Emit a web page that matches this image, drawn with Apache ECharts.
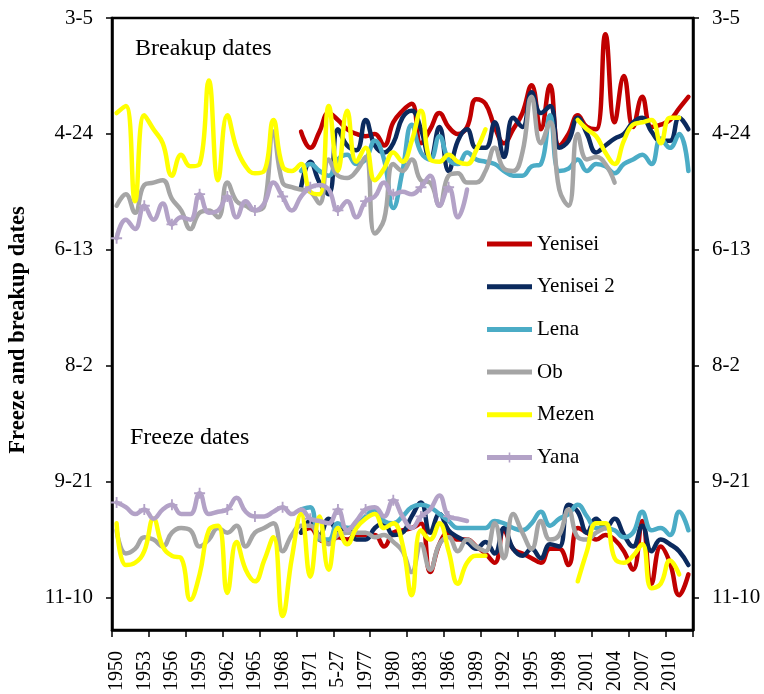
<!DOCTYPE html>
<html>
<head>
<meta charset="utf-8">
<script src="https://cdn.jsdelivr.net/npm/echarts@6/dist/echarts.min.js"></script>
<style>
  html, body { margin: 0; padding: 0; background: #fff; }
  #chart { width: 764px; height: 694px; }
</style>
</head>
<body>
<div id="chart"></div>
<script>
// Category labels (one per year, 1950-2012); the 1974 cell carries a date-formatted text.
const years = ['1950','1951','1952','1953','1954','1955','1956','1957','1958','1959',
  '1960','1961','1962','1963','1964','1965','1966','1967','1968','1969',
  '1970','1971','1972','1973','5-27','1975','1976','1977','1978','1979',
  '1980','1981','1982','1983','1984','1985','1986','1987','1988','1989',
  '1990','1991','1992','1993','1994','1995','1996','1997','1998','1999',
  '2000','2001','2002','2003','2004','2005','2006','2007','2008','2009',
  '2010','2011','2012'];

// Date axis: day of year (non-leap) and its printed label.
const dayTicks = [64, 114, 164, 214, 264, 314];
const dayTickLabels = ['3-5', '4-24', '6-13', '8-2', '9-21', '11-10'];

const _ = null;
// Breakup dates (day of year)
const yeniseiBreakup = [_,_,_,_,_,_,_,_,_,_,_,_,_,_,_,_,_,_,_,_,
  113,120,113,105,108,112,114,115,114,119,109,104,101,118,112,105,111,114,111,99,
  101,111,118,112,105,93,112,93,119,114,106,111,112,71,109,89,111,98,111,110,108,103,98];
const yenisei2Breakup = [_,_,_,_,_,_,_,_,_,_,_,_,_,_,_,_,_,_,_,_,
  137,126,135,140,112,119,121,108,119,122,118,107,104,112,125,111,130,117,112,120,
  120,109,124,107,111,96,105,102,120,117,107,114,122,119,116,114,109,107,113,117,117,107,112];
const lenaBreakup = [_,_,_,_,_,_,_,_,_,_,_,_,_,_,_,_,_,_,_,_,
  130,127,130,132,125,123,127,125,117,125,146,130,110,122,125,115,125,127,122,125,
  126,127,130,132,132,128,127,106,130,129,125,130,127,128,131,127,125,123,127,116,120,114,130];
const obBreakup = [145,140,148,136,135,134,142,147,155,148,147,150,135,143,145,147,145,113,135,137,
  138,139,144,125,132,133,130,124,157,151,127,130,125,134,135,145,132,131,135,135,
  130,120,129,130,122,98,118,109,138,145,114,125,124,127,135,_,_,_,_,_,_,_,_];
const mezenBreakup = [105,102,143,106,112,118,132,123,128,127,91,134,106,120,128,131,130,108,128,130,
  127,139,140,102,130,104,126,120,134,129,122,126,117,104,125,126,123,126,127,121,
  112,_,_,_,_,_,_,_,_,_,108,112,115,122,127,117,110,109,108,118,107,107,_];
const yanaBreakup = [159,151,155,145,151,144,153,150,151,140,148,147,141,150,143,147,144,135,141,147,
  141,137,136,138,147,143,150,143,141,135,140,139,140,137,132,145,137,150,138,_,
  _,_,_,_,_,_,_,_,_,_,_,_,_,_,_,_,_,_,_,_,_,_,_];

// Freeze dates (day of year)
const yeniseiFreeze = [_,_,_,_,_,_,_,_,_,_,_,_,_,_,_,_,_,_,_,_,
  286,284,289,290,288,289,287,287,287,292,286,285,284,282,303,291,286,289,289,292,
  295,299,285,293,295,297,299,293,293,300,284,286,289,287,289,294,302,281,308,292,299,313,304];
const yenisei2Freeze = [_,_,_,_,_,_,_,_,_,_,_,_,_,_,_,_,_,_,_,_,
  286,281,287,280,285,284,289,289,284,282,287,286,279,273,286,278,285,288,290,293,
  290,295,284,293,296,293,297,291,292,274,277,286,280,284,280,287,292,283,294,289,291,294,300];
const lenaFreeze = [_,_,_,_,_,_,_,_,_,_,_,_,_,_,_,_,_,_,_,_,
  276,275,289,289,282,284,283,279,276,281,282,279,275,274,275,278,281,284,284,284,
  284,281,282,284,285,282,277,283,280,278,274,279,284,284,285,288,286,277,285,284,287,277,285];
const obFreeze = [285,295,293,288,289,292,286,284,285,292,289,284,286,283,292,286,284,282,294,287,
  283,283,288,291,287,286,286,286,288,287,290,294,303,291,302,291,288,294,289,292,
  294,282,297,278,286,293,281,289,287,276,288,289,286,284,_,_,_,_,_,_,_,_,_];
const mezenFreeze = [282,300,299,294,280,292,296,297,315,304,285,283,312,290,302,307,298,288,322,297,
  278,305,279,302,284,291,284,280,278,284,282,291,313,285,289,282,294,308,299,296,
  296,_,_,_,_,_,_,_,_,_,307,294,282,282,297,299,296,291,310,308,298,304,_];
const yanaFreeze = [273,275,278,276,280,276,274,278,278,269,278,277,276,271,277,279,279,277,275,278,
  276,280,281,282,276,285,281,276,275,279,272,279,284,279,276,270,279,280,281,_,
  _,_,_,_,_,_,_,_,_,_,_,_,_,_,_,_,_,_,_,_,_,_,_];

const rivers = [
  { name: 'Yenisei',   color: '#C00000', breakup: yeniseiBreakup,  freeze: yeniseiFreeze },
  { name: 'Yenisei 2', color: '#0B2A5E', breakup: yenisei2Breakup, freeze: yenisei2Freeze },
  { name: 'Lena',      color: '#4BACC6', breakup: lenaBreakup,     freeze: lenaFreeze },
  { name: 'Ob',        color: '#A5A5A5', breakup: obBreakup,       freeze: obFreeze },
  { name: 'Mezen',     color: '#FFFF00', breakup: mezenBreakup,    freeze: mezenFreeze },
  { name: 'Yana',      color: '#B3A2C7', breakup: yanaBreakup,     freeze: yanaFreeze, marker: true }
];

const SERIF = "'Times New Roman', 'Liberation Serif', serif";
const PLUS = 'path://M5,0H7V5H12V7H7V12H5V7H0V5H5Z';
// Legend keys drawn in a 45x12 box: a plain bar, or a bar crossed by a short stroke.
const KEY_BOX = 'M0,0h0.01v0.01h-0.01Z M44.99,11.99h0.01v0.01h-0.01Z ';
const KEY_LINE = 'path://' + KEY_BOX + 'M0,3.5H45V8.5H0Z';
const KEY_PLUS = 'path://' + KEY_BOX + 'M0,3.5H45V8.5H0Z M21.7,1H23.3V11H21.7Z';

function lineSeries(r, values) {
  return {
    type: 'line',
    name: r.name,
    data: values,
    smooth: 0.45,
    connectNulls: false,
    symbol: r.marker ? PLUS : 'none',
    showSymbol: !!r.marker,
    symbolSize: 11,
    itemStyle: { color: r.color },
    lineStyle: { color: r.color, width: 4.5, cap: 'round', join: 'round' },
    emphasis: { disabled: true }
  };
}

const series = [];
rivers.forEach(r => series.push(lineSeries(r, r.breakup)));
rivers.forEach(r => series.push(lineSeries(r, r.freeze)));

function yAxisDef(pos) {
  return {
    type: 'value',
    position: pos,
    inverse: true,
    min: 64,
    max: 328,
    splitLine: { show: false },
    axisLine: { show: true, lineStyle: { color: '#000', width: 2.5 } },
    axisTick: { show: true, length: 6, lineStyle: { color: '#000', width: 1.5 }, customValues: dayTicks },
    axisLabel: {
      show: true,
      customValues: dayTicks,
      margin: 19,
      color: '#000',
      fontFamily: SERIF,
      fontSize: 21,
      formatter: v => dayTickLabels[dayTicks.indexOf(v)] || ''
    }
  };
}

const chart = echarts.init(document.getElementById('chart'), null, { renderer: 'canvas' });
chart.setOption({
  animation: false,
  backgroundColor: '#fff',
  grid: { left: 112, right: 71, top: 18, bottom: 61, show: true, borderColor: '#000', borderWidth: 2.5 },
  xAxis: {
    type: 'category',
    data: years,
    boundaryGap: true,
    axisLine: { show: true, lineStyle: { color: '#000', width: 2.5 } },
    axisTick: { show: true, interval: 3, length: 7, lineStyle: { color: '#000', width: 1.5 } },
    axisLabel: {
      interval: 2,
      rotate: 90,
      margin: 21,
      color: '#000',
      fontFamily: SERIF,
      fontSize: 20
    },
    splitLine: { show: false }
  },
  yAxis: [yAxisDef('left'), yAxisDef('right')],
  legend: {
    data: rivers.map(r => ({ name: r.name, icon: r.marker ? KEY_PLUS : KEY_LINE })),
    orient: 'vertical',
    left: 482,
    top: 227,
    itemWidth: 45,
    itemHeight: 12,
    itemGap: 18.7,
    textStyle: { fontFamily: SERIF, fontSize: 21, color: '#000', lineHeight: 24 },
    selectedMode: false
  },
  graphic: [
    { type: 'text', left: 135, top: 37, style: { text: 'Breakup dates', font: '24px ' + SERIF, fill: '#000' } },
    { type: 'text', left: 130, top: 426, style: { text: 'Freeze dates', font: '24px ' + SERIF, fill: '#000' } },
    {
      type: 'text', x: 18, y: 330, rotation: Math.PI / 2,
      style: { text: 'Freeze and breakup dates', font: 'bold 22.5px ' + SERIF, fill: '#000', align: 'center', verticalAlign: 'middle' }
    }
  ],
  series: series
});
</script>
</body>
</html>
